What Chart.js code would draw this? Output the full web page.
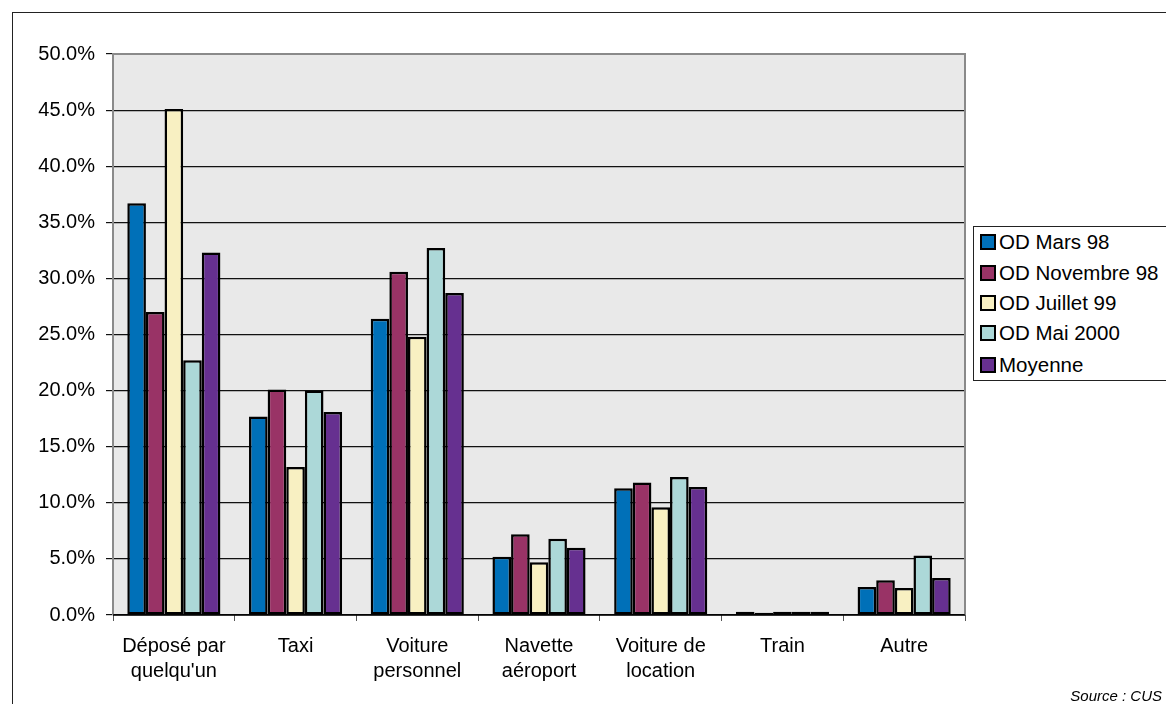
<!DOCTYPE html>
<html>
<head>
<meta charset="utf-8">
<script src="https://cdn.jsdelivr.net/npm/chart.js@4.4.1/dist/chart.umd.min.js"></script>
<style>
  html, body { margin: 0; padding: 0; background: #fff; overflow: hidden; }
  #wrap { position: relative; width: 1166px; height: 704px; }
  #frame { position: absolute; left: 12px; top: 12px; width: 1200px; height: 720px; border: 1px solid #222; box-sizing: border-box; }
  canvas { position: absolute; left: 0; top: 0; }
  #legend { position: absolute; left: 973px; top: 226px; width: 220px; height: 155px; border: 1px solid #222; box-sizing: border-box; background: #fff;
    font-family: "Liberation Sans", Arial, sans-serif; font-size: 20.5px; color: #000; }
  .item { position: absolute; left: 6px; height: 24px; line-height: 24px; white-space: nowrap; }
  .sw { display: inline-block; width: 12px; height: 12px; border: 2px solid #000; vertical-align: -1px; margin-right: 3px; }
  #source { position: absolute; right: 4px; top: 687px; font-family: "Liberation Sans", Arial, sans-serif; font-style: italic; font-size: 15px; color: #000; }
</style>
</head>
<body>
<div id="wrap">
  <div id="frame"></div>
  <canvas id="c" width="1166" height="704"></canvas>
  <div id="legend"></div>
  <div id="source">Source : CUS</div>
</div>
<script>
const categories = [["Déposé par", "quelqu'un"], "Taxi", ["Voiture", "personnel"], ["Navette", "aéroport"], ["Voiture de", "location"], "Train", "Autre"];
const seriesNames = ["OD Mars 98", "OD Novembre 98", "OD Juillet 99", "OD Mai 2000", "Moyenne"];
const seriesColors = ["#0070b8", "#993366", "#f8f0c2", "#acd8d8", "#663090"];
const odMars98 = [36.7, 17.7, 26.4, 5.2, 11.3, 0.3, 2.5];
const odNovembre98 = [27.0, 20.1, 30.6, 7.2, 11.8, 0.2, 3.1];
const odJuillet99 = [45.1, 13.2, 24.8, 4.7, 9.6, 0.3, 2.4];
const odMai2000 = [22.7, 20.0, 32.7, 6.8, 12.3, 0.3, 5.3];
const moyenne = [32.3, 18.1, 28.7, 6.0, 11.4, 0.3, 3.3];
const yTicks = [0, 5, 10, 15, 20, 25, 30, 35, 40, 45, 50];

const seriesValues = [odMars98, odNovembre98, odJuillet99, odMai2000, moyenne];

const plotBg = {
  id: 'plotBg',
  beforeDraw(chart) {
    const {ctx, chartArea: a} = chart;
    ctx.save();
    ctx.fillStyle = '#e9e9e9';
    ctx.fillRect(a.left, a.top, a.right - a.left, a.bottom - a.top);
    ctx.restore();
  },
  afterDatasetsDraw(chart) {
    const {ctx, chartArea: a} = chart;
    ctx.save();
    ctx.strokeStyle = '#8a8a8a';
    ctx.lineWidth = 2;
    ctx.beginPath();
    ctx.moveTo(a.left, a.bottom);
    ctx.lineTo(a.left, a.top);
    ctx.lineTo(a.right, a.top);
    ctx.lineTo(a.right, a.bottom);
    ctx.stroke();
    ctx.strokeStyle = '#000';
    ctx.lineWidth = 1.5;
    ctx.beginPath();
    ctx.moveTo(a.left, a.bottom);
    ctx.lineTo(a.right, a.bottom);
    ctx.stroke();
    ctx.restore();
  }
};

new Chart(document.getElementById('c'), {
  type: 'bar',
  data: {
    labels: categories,
    datasets: seriesNames.map((n, i) => ({
      label: n,
      data: seriesValues[i],
      backgroundColor: seriesColors[i],
      borderColor: '#000',
      borderWidth: 2.5,
      borderSkipped: false,
      barPercentage: 1.0,
      categoryPercentage: 0.765
    }))
  },
  options: {
    responsive: false,
    animation: false,
    layout: { padding: { left: 0, right: 201, top: 54, bottom: 0 } },
    plugins: { legend: { display: false }, tooltip: { enabled: false } },
    scales: {
      x: {
        grid: { display: true, offset: true, drawOnChartArea: false, color: '#555', tickLength: 6, lineWidth: 1 },
        border: { display: false },
        ticks: { color: '#000', font: { family: 'Liberation Sans', size: 20, lineHeight: 1.25 }, padding: 13, maxRotation: 0, autoSkip: false },
        afterFit(s) { s.height = 89; }
      },
      y: {
        min: 0, max: 50,
        afterBuildTicks(s) { s.ticks = yTicks.map(v => ({ value: v })); },
        grid: { color: '#111', lineWidth: 1.2, tickLength: 7, drawTicks: true },
        border: { display: false },
        ticks: { color: '#000', font: { family: 'Liberation Sans', size: 20 }, padding: 11, callback: v => v.toFixed(1) + '%' },
        afterFit(s) { s.width = 113; }
      }
    }
  },
  plugins: [plotBg]
});

const leg = document.getElementById('legend');
const rowTops = [3, 34, 64, 94, 126];
seriesNames.forEach((n, i) => {
  const d = document.createElement('div');
  d.className = 'item';
  d.style.top = rowTops[i] + 'px';
  d.innerHTML = '<span class="sw" style="background:' + seriesColors[i] + '"></span>' + n;
  leg.appendChild(d);
});
</script>
</body>
</html>
